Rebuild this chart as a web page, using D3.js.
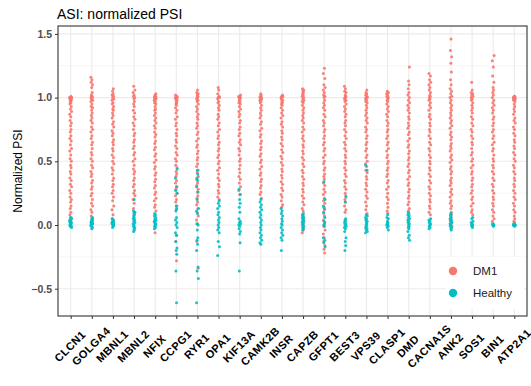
<!DOCTYPE html>
<html>
<head>
<meta charset="utf-8">
<script src="https://cdn.jsdelivr.net/npm/d3@7/dist/d3.min.js"></script>
<style>
  html, body { margin: 0; padding: 0; background: #fff; }
  svg { display: block; font-family: "Liberation Sans", Arial, sans-serif; }
</style>
</head>
<body>
<svg id="chart" width="531" height="386"></svg>
<script>
// Genes (x categories)
const genes = ["CLCN1","GOLGA4","MBNL1","MBNL2","NFIX","CCPG1","RYR1","OPA1","KIF13A","CAMK2B","INSR",
  "CAPZB","GFPT1","BEST3","VPS39","CLASP1","DMD","CACNA1S","ANK2","SOS1","BIN1","ATP2A1"];

// Normalized PSI per sample, DM1 group (one list per gene, same order as genes)
const dm1PSI = [
  [1.01,1,1,1,1,1,.99,.99,.99,.98,.98,.97,.96,.95,.93,.91,.89,.87,.85,.82,.8,.78,.75,.73,.7,.68,.66,.63,.6,.58,.55,.52,.5,.47,.45,.42,.4,.37,.35,.32,.3,.27,.25,.22,.2,.18,.15,.13,.1,.08,.06,.04],
  [1.16,1.14,1.12,1.1,1.08,1.04,1.02,1.01,1,1,.99,.98,.97,.95,.93,.92,.9,.88,.86,.84,.82,.8,.77,.75,.73,.7,.68,.65,.63,.6,.57,.55,.52,.5,.47,.45,.42,.4,.38,.35,.33,.3,.28,.25,.23,.2,.17,.15,.12,.1,.07,.05],
  [1.07,1.05,1.03,1.02,1.01,1,.99,.98,.96,.95,.93,.91,.9,.88,.86,.84,.81,.79,.77,.74,.72,.7,.67,.65,.63,.6,.58,.55,.53,.5,.48,.45,.43,.4,.37,.35,.32,.3,.27,.25,.22,.19,.15,.12,.08,.05],
  [1.09,1.06,1.04,1.02,1.01,1,.99,.97,.95,.93,.9,.88,.85,.83,.8,.78,.75,.72,.7,.67,.65,.62,.6,.57,.55,.52,.5,.47,.44,.42,.4,.37,.35,.32,.3,.27,.25,.23,.2,.17,.13,.1],
  [1.03,1.02,1.01,1.01,1,1,1,.99,.99,.98,.97,.96,.95,.93,.91,.9,.88,.86,.84,.82,.8,.78,.76,.73,.71,.69,.66,.64,.61,.59,.56,.54,.51,.49,.46,.44,.41,.39,.36,.34,.31,.29,.26,.24,.21,.19,.16,.14,.11,-.06],
  [1.02,1.01,1,1,1,.99,.99,.98,.97,.96,.95,.94,.92,.9,.88,.85,.83,.8,.78,.75,.72,.7,.67,.65,.62,.6,.57,.55,.52,.5,.47,.45,.42,.4,.38,.35,.33,.3,.28,.25,.23,.2,.18,.15,.12,-.08,-.13,-.28],
  [1.06,1.04,1.03,1.02,1.01,1,1,.99,.98,.97,.95,.93,.91,.89,.87,.85,.83,.8,.78,.76,.73,.71,.68,.66,.63,.61,.58,.56,.53,.51,.48,.46,.43,.41,.38,.36,.33,.31,.28,.26,.23,.21,.18,.16,.13,.1,.07,.04,.01,-.13,-.34],
  [1.08,1.06,1.03,1.01,1,1,.99,.97,.96,.94,.92,.9,.87,.85,.83,.8,.78,.75,.73,.7,.68,.65,.63,.6,.58,.55,.53,.5,.48,.45,.43,.4,.37,.35,.32,.3,.27,.25,.22,.2],
  [1.02,1.01,1,1,1,.99,.99,.98,.97,.96,.95,.93,.91,.89,.87,.85,.82,.8,.77,.75,.72,.7,.67,.65,.63,.6,.58,.55,.52,.5,.47,.44,.41,.38,.36,.33,.3,.27,.24],
  [1.03,1.02,1.01,1,1,1,.99,.99,.98,.97,.96,.94,.92,.9,.88,.86,.84,.81,.79,.76,.74,.71,.69,.66,.64,.61,.59,.56,.54,.51,.49,.46,.44,.41,.39,.36,.34,.31,.29,.26,.24,.21],
  [1.02,1.01,1.01,1,1,.99,.98,.97,.96,.95,.94,.92,.9,.88,.86,.84,.81,.79,.77,.74,.72,.69,.67,.64,.62,.59,.57,.54,.52,.49,.47,.44,.42,.39,.37,.34,.32,.29,.27,.24,.22,.19,.16,.14],
  [1.07,1.06,1.05,1.04,1.03,1.02,1.01,1,.99,.98,.97,.96,.94,.92,.9,.88,.86,.84,.82,.8,.77,.75,.73,.7,.68,.66,.63,.61,.58,.56,.53,.51,.48,.46,.43,.41,.38,.36,.33,.31,.28,.26,.23,.21,.18,.16,.13,.11,.08,.06,.03,.01,-.02,-.04,-.06],
  [1.23,1.19,1.15,1.1,1.08,1.06,1.04,1.02,1.01,1,.98,.96,.94,.92,.9,.87,.85,.82,.8,.78,.75,.73,.7,.68,.65,.63,.6,.58,.55,.53,.5,.48,.45,.43,.4,.38,.36,.33,.31,.28,.26,.24,.21,.19,.17,.14,.12,.09,.07,.04,.02,-.01,-.04,-.07,-.1,-.13,-.16,-.19,-.22],
  [1.09,1.07,1.05,1.04,1.02,1.01,1,1,.99,.98,.97,.95,.93,.91,.89,.87,.85,.82,.8,.78,.75,.73,.7,.68,.65,.63,.6,.58,.55,.53,.5,.48,.45,.43,.4,.38,.35,.33,.3,.28,.25,.23,.2,.18,.15,.12,.1],
  [1.06,1.04,1.03,1.02,1.01,1,1,.99,.98,.97,.96,.94,.92,.9,.88,.86,.84,.82,.8,.77,.75,.73,.7,.68,.65,.63,.6,.58,.55,.53,.5,.48,.46,.43,.41,.38,.36,.33,.31,.28,.26,.23,.21,.18,.15,.12,.09],
  [1.05,1.04,1.03,1.02,1.01,1,1,.99,.98,.97,.95,.93,.91,.89,.87,.85,.82,.8,.78,.75,.73,.7,.68,.65,.63,.6,.58,.55,.53,.5,.48,.45,.43,.4,.38,.35,.33,.3,.28,.25,.22,.2,.17,.14,.11,.09],
  [1.24,1.13,1.1,1.07,1.04,1.02,1,.98,.96,.94,.92,.9,.88,.85,.83,.8,.78,.76,.73,.71,.68,.66,.63,.61,.58,.56,.53,.51,.48,.46,.43,.41,.38,.36,.33,.31,.28,.26,.23,.21,.18,.16,.13,.11],
  [1.19,1.17,1.14,1.12,1.1,1.08,1.06,1.04,1.02,1.01,1,.99,.98,.96,.94,.92,.9,.87,.85,.83,.8,.78,.75,.73,.7,.68,.65,.63,.6,.58,.55,.53,.5,.48,.45,.43,.4,.38,.35,.33,.3,.28,.25,.23,.2,.18,.15,.13,.1,.08],
  [1.46,1.37,1.32,1.27,1.2,1.14,1.1,1.07,1.05,1.03,1.01,1,.98,.96,.94,.92,.9,.88,.86,.84,.82,.8,.78,.76,.73,.71,.69,.67,.64,.62,.6,.58,.55,.53,.51,.49,.46,.44,.42,.4,.37,.35,.33,.31,.28,.26,.24,.22,.19,.17,.15,.13,.1,.08,.06,.04,.02,0,-.01],
  [1.12,1.06,1.04,1.03,1.02,1.01,1,.99,.98,.96,.94,.92,.9,.88,.85,.83,.8,.78,.75,.73,.7,.68,.65,.63,.6,.57,.55,.52,.5,.47,.45,.42,.4,.37,.35,.32,.3,.27,.25,.22,.2,.17,.15,.12,.1,.08],
  [1.33,1.29,1.24,1.17,1.12,1.08,1.06,1.04,1.02,1,.98,.96,.94,.92,.9,.88,.85,.83,.8,.78,.75,.73,.7,.68,.65,.63,.6,.58,.55,.52,.5,.47,.45,.42,.4,.37,.35,.32,.3,.27,.25,.22,.2,.17,.15,.12,.1,.07,.05,.03,.01],
  [1.01,1.01,1,1,1,1,1,.99,.99,.99,.98,.97,.95,.93,.91,.89,.87,.84,.82,.8,.77,.75,.72,.7,.67,.65,.62,.6,.57,.55,.52,.5,.47,.45,.42,.4,.37,.35,.32,.3,.27,.25,.22,.2,.17,.15,.12,.1,.07,.05,.03,.02,.01]
];

// Normalized PSI per sample, Healthy group
const healthyPSI = [
  [.06,.05,.04,.03,.02,.02,.01,.01,0,0,0,-.01,-.01,-.02,.03,.01],
  [.06,.05,.04,.03,.03,.02,.02,.01,.01,0,0,-.01,-.02,-.03,.04,.01],
  [.05,.04,.03,.02,.02,.01,.01,0,0,-.01,-.02,.03,.01,0],
  [.2,.11,.1,.09,.08,.07,.06,.05,.04,.03,.02,.01,0,-.01,-.02,-.03,-.04,-.05],
  [.09,.08,.07,.06,.05,.04,.03,.03,.02,.01,0,0,-.01,-.02,-.03],
  [.44,.37,.3,.27,.25,.15,.13,.11,.06,.04,.02,0,-.02,-.06,-.08,-.13,-.18,-.2,-.23,-.36,-.61],
  [.43,.4,.37,.35,.3,.26,.2,.13,.11,.09,.01,0,-.04,-.1,-.12,-.15,-.2,-.33,-.36,-.42,-.61],
  [.19,.17,.15,.13,.1,.08,.06,.04,.02,0,-.02,-.04,-.06,-.13,-.17,-.24],
  [.28,.24,.2,.17,.14,.1,.05,.03,.02,.01,0,-.01,-.03,-.05,-.07,-.14,-.36],
  [.2,.18,.16,.14,.12,.1,.08,.06,.04,.02,0,-.02,-.04,-.06,-.08,-.1,-.12,-.14,-.15],
  [.13,.11,.09,.07,.05,.03,.01,0,-.02,-.04,-.06,-.08,-.1,-.12,-.2],
  [.09,.08,.07,.06,.05,.04,.03,.02,.01,0,-.01,-.02,-.03,-.04],
  [.34,.2,.15,.13,.1,.06,.03,.01,0,-.01,-.1,-.12,-.14,-.17],
  [.22,.18,.05,.04,.03,.02,.01,0,-.01,-.02,-.03,-.05,-.1,-.13,-.16,-.2],
  [.47,.43,.08,.07,.06,.05,.04,.03,.02,.01,0,-.01,-.02,-.03,-.04,-.05,-.06],
  [.08,.06,.05,.03,.02,.01,0,0,-.01,-.02,-.04],
  [.1,.09,.08,.07,.06,.05,.04,.03,.02,.01,0,-.01,-.02,-.03,-.05,-.08,-.1,-.12],
  [.05,.04,.03,.02,.01,0,0,-.01,-.02,-.03],
  [.09,.08,.07,.06,.05,.04,.03,.02,.01,0,-.01,-.02,-.03,-.04],
  [.06,.05,.03,.02,.01,0,0,-.01,-.02],
  [.01,0,0,0,0,-.01],
  [.01,0,0,0,0,0,0,0,0,0,-.01]
];

const yTicks = [-0.5, 0, 0.5, 1, 1.5];
const yMinor = [-0.25, 0.25, 0.75, 1.25];
const groups = ["DM1", "Healthy"];
const groupColors = ["#F8766D", "#00BFC4"];

const svg = d3.select("#chart");
const panel = { left: 58, right: 527, top: 26, bottom: 316 };

const x = d3.scalePoint().domain(genes).range([panel.left, panel.right]).padding(0.6);
const y = d3.scaleLinear().domain([-0.714, 1.562]).range([panel.bottom, panel.top]);

// panel background and grid
svg.append("rect").attr("x", panel.left).attr("y", panel.top)
  .attr("width", panel.right - panel.left).attr("height", panel.bottom - panel.top).attr("fill", "#fff");

const grid = svg.append("g");
grid.selectAll(".minor").data(yMinor).join("line")
  .attr("x1", panel.left).attr("x2", panel.right)
  .attr("y1", d => y(d)).attr("y2", d => y(d))
  .attr("stroke", "#F0F0F0").attr("stroke-width", 0.6);
grid.selectAll(".major").data(yTicks).join("line")
  .attr("x1", panel.left).attr("x2", panel.right)
  .attr("y1", d => y(d)).attr("y2", d => y(d))
  .attr("stroke", "#EBEBEB").attr("stroke-width", 1.1);
grid.selectAll(".vert").data(genes).join("line")
  .attr("x1", d => x(d)).attr("x2", d => x(d))
  .attr("y1", panel.top).attr("y2", panel.bottom)
  .attr("stroke", "#EBEBEB").attr("stroke-width", 1.1);

// samples, nudged sideways by a small fixed offset pattern
const offsets = [0.2, -0.8, 0.6, -0.3, 0.9, -0.9, 0.1, -0.6, 0.7, -0.1, 0.4, -0.4];
const pts = [];
[dm1PSI, healthyPSI].forEach((set, g) => {
  set.forEach((vals, gi) => {
    vals.forEach((v, i) => pts.push({ gene: genes[gi], v, g, i: i + gi * 5 + g * 3 }));
  });
});

svg.append("g").selectAll("circle").data(pts).join("circle")
  .attr("cx", d => x(d.gene) + offsets[d.i % offsets.length])
  .attr("cy", d => y(d.v))
  .attr("r", 1.5)
  .attr("fill", d => groupColors[d.g])
  .attr("fill-opacity", 0.9);

// legend (inside panel, white key box)
const leg = svg.append("g");
leg.append("rect").attr("x", 446).attr("y", 257).attr("width", 78).attr("height", 52).attr("fill", "#fff");
groups.forEach((name, k) => {
  leg.append("circle").attr("cx", 453).attr("cy", 271 + k * 22).attr("r", 4.2).attr("fill", groupColors[k]);
  leg.append("text").attr("x", 473).attr("y", 275 + k * 22).attr("font-size", 11.5)
    .attr("fill", "#1a1a1a").text(name);
});

// panel border
svg.append("rect").attr("x", panel.left).attr("y", panel.top)
  .attr("width", panel.right - panel.left).attr("height", panel.bottom - panel.top)
  .attr("fill", "none").attr("stroke", "#333").attr("stroke-width", 1.1);

// y axis
const yAxis = svg.append("g").attr("transform", `translate(${panel.left},0)`)
  .call(d3.axisLeft(y).tickValues(yTicks).tickSize(3).tickPadding(3).tickFormat(d3.format(".1f")));
yAxis.select(".domain").remove();
yAxis.selectAll("line").attr("stroke", "#333");
yAxis.selectAll("text").attr("font-size", 10.5).attr("font-weight", "bold").attr("fill", "#4D4D4D")
  .attr("font-family", "Liberation Sans, Arial, sans-serif");

// x axis ticks
const xAxis = svg.append("g").attr("transform", `translate(0,${panel.bottom})`)
  .call(d3.axisBottom(x).tickSize(3).tickFormat(""));
xAxis.select(".domain").remove();
xAxis.selectAll("line").attr("stroke", "#333");

// rotated gene labels
svg.append("g").selectAll("text").data(genes).join("text")
  .attr("transform", d => `translate(${x(d) + 2},${349}) rotate(-45)`)
  .attr("text-anchor", "middle")
  .attr("font-size", 11).attr("font-weight", "bold").attr("fill", "#000")
  .attr("letter-spacing", 0.4)
  .text(d => d);

// title and y label
svg.append("text").attr("x", 57).attr("y", 19).attr("font-size", 14).attr("fill", "#000")
  .text("ASI: normalized PSI");
svg.append("text").attr("transform", `translate(22,${(panel.top + panel.bottom) / 2}) rotate(-90)`)
  .attr("text-anchor", "middle").attr("font-size", 12).attr("fill", "#000")
  .text("Normalized PSI");
</script>
</body>
</html>
